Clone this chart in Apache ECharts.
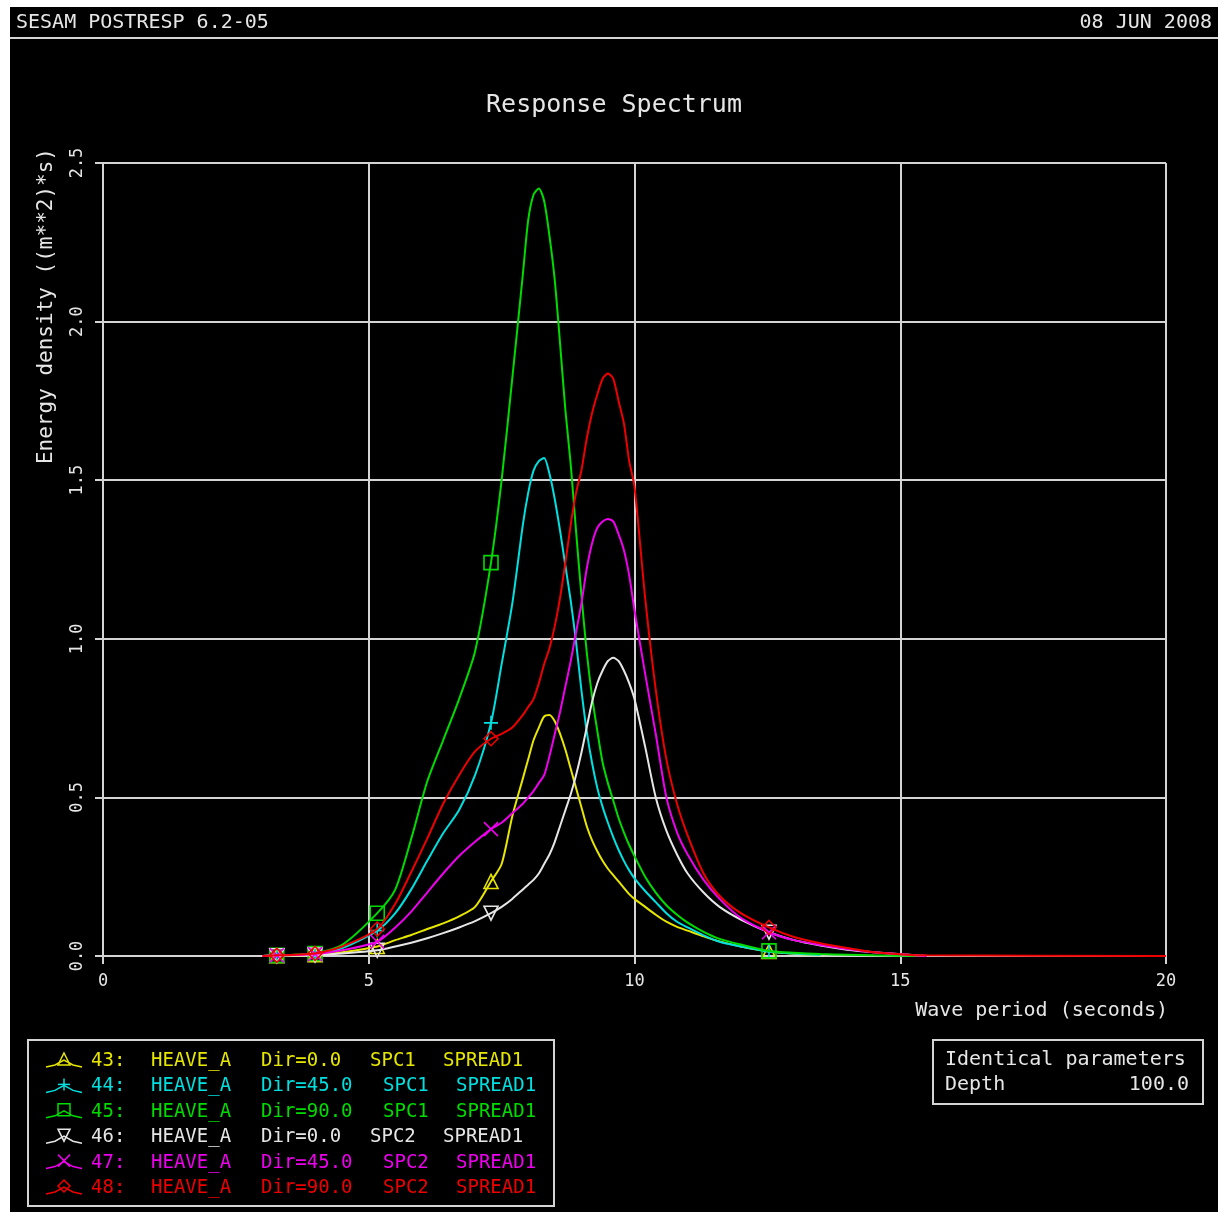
<!DOCTYPE html>
<html>
<head>
<meta charset="utf-8">
<script src="https://cdn.jsdelivr.net/npm/echarts@6/dist/echarts.min.js"></script>
<style>
html,body{margin:0;padding:0;background:#ffffff;}
#c{width:1218px;height:1212px;}
</style>
</head>
<body>
<div id="c"></div>
<script>
// ---------------- DATA ----------------
const periods = [3.0, 3.27, 3.6, 3.99, 4.5, 5.16, 5.5, 5.8, 6.1, 6.4, 6.7, 7.0, 7.3, 7.5, 7.7, 7.9, 8.0, 8.1, 8.2, 8.3, 8.4, 8.5, 8.6, 8.7, 8.8, 8.9, 9.0, 9.1, 9.2, 9.3, 9.4, 9.5, 9.6, 9.7, 9.8, 9.9, 10.0, 10.2, 10.4, 10.6, 10.8, 11.0, 11.3, 11.6, 12.0, 12.53, 13.0, 13.5, 14.0, 14.5, 15.5, 20.0];
const markerPeriods = [3.27, 3.99, 5.16, 7.3, 12.53];

const s43 = [0, 0.001, 0.002, 0.004, 0.012, 0.03, 0.05, 0.066, 0.085, 0.103, 0.125, 0.155, 0.235, 0.29, 0.44, 0.56, 0.62, 0.68, 0.72, 0.755, 0.76, 0.74, 0.70, 0.65, 0.59, 0.53, 0.47, 0.41, 0.365, 0.33, 0.30, 0.275, 0.255, 0.235, 0.215, 0.195, 0.18, 0.155, 0.13, 0.108, 0.092, 0.08, 0.062, 0.046, 0.03, 0.014, 0.007, 0.002, null, null, null, null];
const s44 = [0, 0.002, 0.003, 0.006, 0.025, 0.08, 0.135, 0.21, 0.30, 0.387, 0.46, 0.57, 0.735, 0.92, 1.11, 1.36, 1.46, 1.53, 1.56, 1.57, 1.52, 1.44, 1.34, 1.23, 1.12, 0.99, 0.84, 0.71, 0.61, 0.53, 0.47, 0.42, 0.375, 0.335, 0.30, 0.27, 0.245, 0.205, 0.17, 0.135, 0.108, 0.09, 0.065, 0.045, 0.03, 0.014, 0.008, 0.003, null, null, null, null];
const s45 = [0, 0.002, 0.004, 0.008, 0.035, 0.135, 0.21, 0.37, 0.55, 0.68, 0.81, 0.96, 1.24, 1.50, 1.82, 2.15, 2.32, 2.40, 2.42, 2.38, 2.27, 2.13, 1.93, 1.72, 1.55, 1.34, 1.14, 0.96, 0.82, 0.71, 0.61, 0.545, 0.49, 0.435, 0.39, 0.35, 0.315, 0.25, 0.20, 0.16, 0.13, 0.105, 0.076, 0.054, 0.036, 0.016, 0.01, 0.006, 0.004, 0.002, 0, null];
const s46 = [0, 0.001, 0.002, 0.003, 0.008, 0.018, 0.03, 0.042, 0.056, 0.072, 0.09, 0.11, 0.135, 0.155, 0.18, 0.21, 0.225, 0.24, 0.26, 0.29, 0.32, 0.36, 0.41, 0.46, 0.51, 0.57, 0.64, 0.72, 0.80, 0.86, 0.90, 0.93, 0.94, 0.93, 0.90, 0.86, 0.81, 0.66, 0.50, 0.395, 0.32, 0.26, 0.20, 0.155, 0.115, 0.075, 0.05, 0.033, 0.02, 0.012, 0, null];
const s47 = [0, 0.002, 0.003, 0.006, 0.018, 0.045, 0.09, 0.14, 0.20, 0.26, 0.315, 0.36, 0.40, 0.42, 0.45, 0.48, 0.50, 0.52, 0.545, 0.57, 0.63, 0.70, 0.77, 0.85, 0.93, 1.02, 1.11, 1.22, 1.30, 1.35, 1.37, 1.378, 1.37, 1.33, 1.28, 1.20, 1.09, 0.89, 0.70, 0.50, 0.39, 0.32, 0.24, 0.18, 0.12, 0.075, 0.05, 0.035, 0.022, 0.012, 0, null];
const s48 = [0, 0.002, 0.004, 0.008, 0.03, 0.085, 0.165, 0.265, 0.37, 0.48, 0.57, 0.645, 0.685, 0.70, 0.72, 0.76, 0.785, 0.81, 0.86, 0.92, 0.97, 1.04, 1.13, 1.24, 1.36, 1.46, 1.53, 1.63, 1.71, 1.77, 1.82, 1.836, 1.82, 1.75, 1.68, 1.56, 1.48, 1.13, 0.84, 0.62, 0.48, 0.38, 0.26, 0.19, 0.135, 0.09, 0.06, 0.04, 0.025, 0.012, 0.002, 0];

const seriesIds = ['43:', '44:', '45:', '46:', '47:', '48:'];
const responses = ['HEAVE_A', 'HEAVE_A', 'HEAVE_A', 'HEAVE_A', 'HEAVE_A', 'HEAVE_A'];
const directions = ['Dir=0.0', 'Dir=45.0', 'Dir=90.0', 'Dir=0.0', 'Dir=45.0', 'Dir=90.0'];
const spectra = ['SPC1', 'SPC1', 'SPC1', 'SPC2', 'SPC2', 'SPC2'];
const spreads = ['SPREAD1', 'SPREAD1', 'SPREAD1', 'SPREAD1', 'SPREAD1', 'SPREAD1'];
const xTickLabels = ['0', '5', '10', '15', '20'];
const yTickLabels = ['0.0', '0.5', '1.0', '1.5', '2.0', '2.5'];

// ---------------- STYLE ----------------
const allValues = [s43, s44, s45, s46, s47, s48];
const colors = ['#e6e600', '#00e0e0', '#00dc00', '#e6e6e6', '#ee00ee', '#ee0000'];
const PLUS = 'path://M5,0L5,10M0,5L10,5';
const CROSS = 'path://M0,0L10,10M10,0L0,10';
const symbols = ['triangle', PLUS, 'rect', 'triangle', CROSS, 'diamond'];
const symbolRot = [0, 0, 0, 180, 0, 0];
const MONO = '"DejaVu Sans Mono", "Liberation Mono", monospace';
const TXT = '#e6e6e6';
const GRIDC = '#d4d4d4';

const chart = echarts.init(document.getElementById('c'), null, {renderer: 'canvas'});

const series = allValues.map((vals, k) => ({
  type: 'line',
  name: seriesIds[k],
  data: periods.map((p, i) => [p, vals[i]]),
  symbol: (v) => (markerPeriods.indexOf(v[0]) >= 0 ? symbols[k] : 'none'),
  symbolSize: 14,
  symbolRotate: symbolRot[k],
  showSymbol: true,
  showAllSymbol: true,
  connectNulls: false,
  clip: false,
  smooth: 0.25,
  lineStyle: {color: colors[k], width: 2},
  itemStyle: {color: 'rgba(0,0,0,0)', borderColor: colors[k], borderWidth: 1.6},
  emphasis: {disabled: true},
  z: 10 + k
}));

// legend drawn as graphic rows
const legendGraphics = [];
legendGraphics.push({type: 'rect', shape: {x: 28, y: 1040, width: 526, height: 166},
  style: {fill: 'none', stroke: GRIDC, lineWidth: 2}});
const rowY0 = 1061, rowDY = 25.4;
for (let k = 0; k < 6; k++) {
  const y = rowY0 + k * rowDY;
  const c = colors[k];
  const wide = directions[k].length > 7;
  legendGraphics.push({type: 'polyline', shape: {points: [[46, y + 6], [55, y + 4], [64, y - 1], [73, y + 4], [82, y + 6]]},
    style: {stroke: c, lineWidth: 1.5, fill: 'none'}});
  const mx = 64, my = y - 2, h = 6;
  let shape;
  if (k === 0) shape = {type: 'polygon', shape: {points: [[mx, my - h], [mx + h, my + h], [mx - h, my + h]]}, style: {fill: 'none', stroke: c, lineWidth: 1.5}};
  else if (k === 1) shape = {type: 'polyline', shape: {points: [[mx - h, my], [mx + h, my]]}, style: {stroke: c, lineWidth: 1.5}};
  else if (k === 2) shape = {type: 'rect', shape: {x: mx - h, y: my - h, width: 2 * h, height: 2 * h}, style: {fill: 'none', stroke: c, lineWidth: 1.5}};
  else if (k === 3) shape = {type: 'polygon', shape: {points: [[mx - h, my - h], [mx + h, my - h], [mx, my + h]]}, style: {fill: 'none', stroke: c, lineWidth: 1.5}};
  else if (k === 4) shape = {type: 'polyline', shape: {points: [[mx - h, my - h], [mx + h, my + h]]}, style: {stroke: c, lineWidth: 1.5}};
  else shape = {type: 'polygon', shape: {points: [[mx, my - h], [mx + h, my], [mx, my + h], [mx - h, my]]}, style: {fill: 'none', stroke: c, lineWidth: 1.5}};
  legendGraphics.push(shape);
  if (k === 1) legendGraphics.push({type: 'polyline', shape: {points: [[mx, my - h], [mx, my + h]]}, style: {stroke: c, lineWidth: 1.5}});
  if (k === 4) legendGraphics.push({type: 'polyline', shape: {points: [[mx + h, my - h], [mx - h, my + h]]}, style: {stroke: c, lineWidth: 1.5}});
  const cols = [[91, seriesIds[k]], [151, responses[k]], [261, directions[k]], [wide ? 383 : 370, spectra[k]], [wide ? 456 : 443, spreads[k]]];
  cols.forEach(([x, t]) => legendGraphics.push({type: 'text', x: x, y: y,
    style: {text: t, fill: c, font: '19px ' + MONO, align: 'left', verticalAlign: 'middle'}}));
}

const option = {
  backgroundColor: '#000000',
  animation: false,
  grid: {left: 103, right: 52, top: 163, bottom: 256, containLabel: false},
  xAxis: {
    type: 'value', min: 0, max: 20, interval: 5,
    axisLine: {show: true, lineStyle: {color: GRIDC, width: 2}},
    axisTick: {show: true, inside: false, length: 8, lineStyle: {color: GRIDC, width: 2}},
    splitLine: {show: true, lineStyle: {color: GRIDC, width: 2}},
    axisLabel: {color: TXT, fontFamily: MONO, fontSize: 17, margin: 17,
      formatter: (v) => xTickLabels[Math.round(v / 5)]}
  },
  yAxis: {
    type: 'value', min: 0, max: 2.5, interval: 0.5,
    axisLine: {show: true, lineStyle: {color: GRIDC, width: 2}},
    axisTick: {show: true, inside: false, length: 8, lineStyle: {color: GRIDC, width: 2}},
    splitLine: {show: true, lineStyle: {color: GRIDC, width: 2}},
    axisLabel: {color: TXT, fontFamily: MONO, fontSize: 17, margin: 17, rotate: 90,
      formatter: (v) => yTickLabels[Math.round(v / 0.5)]}
  },
  series: series,
  graphic: [
    {type: 'rect', shape: {x: 0, y: 0, width: 10, height: 1212}, style: {fill: '#ffffff'}, silent: true},
    {type: 'rect', shape: {x: 0, y: 0, width: 1218, height: 7}, style: {fill: '#ffffff'}, silent: true},
    {type: 'line', shape: {x1: 10, y1: 38, x2: 1218, y2: 38}, style: {stroke: GRIDC, lineWidth: 2}},
    {type: 'text', x: 16, y: 23, style: {text: 'SESAM POSTRESP 6.2-05', fill: TXT, font: '20px ' + MONO, align: 'left', verticalAlign: 'middle'}},
    {type: 'text', x: 1212, y: 23, style: {text: '08 JUN 2008', fill: TXT, font: '20px ' + MONO, align: 'right', verticalAlign: 'middle'}},
    {type: 'text', x: 614, y: 105, style: {text: 'Response Spectrum', fill: TXT, font: '25px ' + MONO, align: 'center', verticalAlign: 'middle'}},
    {type: 'text', x: 47, y: 148, rotation: Math.PI / 2, style: {text: 'Energy density ((m**2)*s)', fill: TXT, font: '21px ' + MONO, align: 'right', verticalAlign: 'middle'}},
    {type: 'text', x: 1168, y: 1011, style: {text: 'Wave period (seconds)', fill: TXT, font: '20px ' + MONO, align: 'right', verticalAlign: 'middle'}},
    {type: 'rect', shape: {x: 933, y: 1040, width: 270, height: 64}, style: {fill: 'none', stroke: GRIDC, lineWidth: 2}},
    {type: 'text', x: 945, y: 1060, style: {text: 'Identical parameters', fill: TXT, font: '20px ' + MONO, align: 'left', verticalAlign: 'middle'}},
    {type: 'text', x: 945, y: 1085, style: {text: 'Depth', fill: TXT, font: '20px ' + MONO, align: 'left', verticalAlign: 'middle'}},
    {type: 'text', x: 1189, y: 1085, style: {text: '100.0', fill: TXT, font: '20px ' + MONO, align: 'right', verticalAlign: 'middle'}}
  ].concat(legendGraphics)
};
chart.setOption(option);
</script>
</body>
</html>
